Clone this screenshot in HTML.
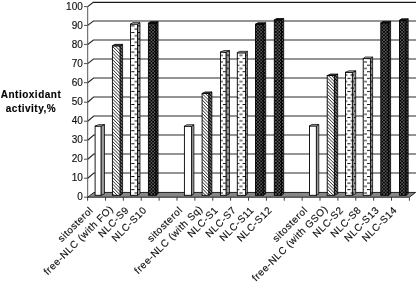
<!DOCTYPE html><html><head><meta charset="utf-8"><style>html,body{margin:0;padding:0;background:#fff;width:416px;height:282px;overflow:hidden}svg{display:block;filter:grayscale(1)}text{font-family:"Liberation Sans",sans-serif;stroke:#111;stroke-width:0.15px}</style></head><body>
<svg width="416" height="282" viewBox="0 0 416 282">
<defs>
<pattern id="ph" patternUnits="userSpaceOnUse" width="2.3158" height="4" patternTransform="rotate(-45)"><rect width="3" height="4" fill="#fff"/><rect width="0.75" height="4" fill="#333"/></pattern>
<pattern id="phs" patternUnits="userSpaceOnUse" width="2.3158" height="4" patternTransform="rotate(-45)"><rect width="3" height="4" fill="#888"/><rect width="1.1" height="4" fill="#000"/></pattern>
<pattern id="pd" patternUnits="userSpaceOnUse" x="0.2" y="5.75" width="6.55" height="6.55"><rect width="6.55" height="6.55" fill="#fff"/><rect x="0" y="0" width="3.275" height="1" fill="#111"/><rect x="3.275" y="3.275" width="3.275" height="1" fill="#111"/></pattern>
<pattern id="pds" patternUnits="userSpaceOnUse" x="0.2" y="5.75" width="6.55" height="6.55"><rect width="6.55" height="6.55" fill="#999"/><rect x="0" y="0" width="3.275" height="1" fill="#000"/><rect x="3.275" y="3.275" width="3.275" height="1" fill="#000"/></pattern>
<pattern id="pk" patternUnits="userSpaceOnUse" width="3.275" height="3.275"><rect width="3.275" height="3.275" fill="#000"/><circle cx="0.819" cy="0.819" r="0.55" fill="#fff"/><circle cx="2.456" cy="2.456" r="0.55" fill="#eee"/></pattern>
</defs>
<line x1="84" y1="197.20" x2="87.7" y2="197.20" stroke="#444" stroke-width="0.95"/>
<text x="82.8" y="200.30" font-size="10" text-anchor="end" fill="#111">0</text>
<polyline points="87.7,178.20 93.84,173.00 416,173.00" fill="none" stroke="#2a2a2a" stroke-width="1.2"/>
<line x1="84" y1="178.20" x2="87.7" y2="178.20" stroke="#444" stroke-width="0.95"/>
<text x="82.8" y="181.30" font-size="10" text-anchor="end" fill="#111">10</text>
<polyline points="87.7,159.20 93.78,154.00 416,154.00" fill="none" stroke="#2a2a2a" stroke-width="1.2"/>
<line x1="84" y1="159.20" x2="87.7" y2="159.20" stroke="#444" stroke-width="0.95"/>
<text x="82.8" y="162.30" font-size="10" text-anchor="end" fill="#111">20</text>
<polyline points="87.7,140.20 93.72,135.00 416,135.00" fill="none" stroke="#2a2a2a" stroke-width="1.2"/>
<line x1="84" y1="140.20" x2="87.7" y2="140.20" stroke="#444" stroke-width="0.95"/>
<text x="82.8" y="143.30" font-size="10" text-anchor="end" fill="#111">30</text>
<polyline points="87.7,121.20 93.66,116.00 416,116.00" fill="none" stroke="#2a2a2a" stroke-width="1.2"/>
<line x1="84" y1="121.20" x2="87.7" y2="121.20" stroke="#444" stroke-width="0.95"/>
<text x="82.8" y="124.30" font-size="10" text-anchor="end" fill="#111">40</text>
<polyline points="87.7,102.20 93.60,97.00 416,97.00" fill="none" stroke="#2a2a2a" stroke-width="1.2"/>
<line x1="84" y1="102.20" x2="87.7" y2="102.20" stroke="#444" stroke-width="0.95"/>
<text x="82.8" y="105.30" font-size="10" text-anchor="end" fill="#111">50</text>
<polyline points="87.7,82.70 93.54,78.00 416,78.00" fill="none" stroke="#2a2a2a" stroke-width="1.2"/>
<line x1="84" y1="82.70" x2="87.7" y2="82.70" stroke="#444" stroke-width="0.95"/>
<text x="82.8" y="85.80" font-size="10" text-anchor="end" fill="#111">60</text>
<polyline points="87.7,63.60 93.48,59.00 416,59.00" fill="none" stroke="#2a2a2a" stroke-width="1.2"/>
<line x1="84" y1="63.60" x2="87.7" y2="63.60" stroke="#444" stroke-width="0.95"/>
<text x="82.8" y="66.70" font-size="10" text-anchor="end" fill="#111">70</text>
<polyline points="87.7,44.40 93.42,40.00 416,40.00" fill="none" stroke="#2a2a2a" stroke-width="1.2"/>
<line x1="84" y1="44.40" x2="87.7" y2="44.40" stroke="#444" stroke-width="0.95"/>
<text x="82.8" y="47.50" font-size="10" text-anchor="end" fill="#111">80</text>
<polyline points="87.7,25.40 93.36,21.00 416,21.00" fill="none" stroke="#2a2a2a" stroke-width="1.2"/>
<line x1="84" y1="25.40" x2="87.7" y2="25.40" stroke="#444" stroke-width="0.95"/>
<text x="82.8" y="28.50" font-size="10" text-anchor="end" fill="#111">90</text>
<polyline points="87.7,6.60 93.30,2.35 416,2.35" fill="none" stroke="#1a1a1a" stroke-width="1.15"/>
<line x1="84" y1="6.60" x2="87.7" y2="6.60" stroke="#444" stroke-width="0.95"/>
<text x="82.8" y="9.70" font-size="10" text-anchor="end" fill="#111">100</text>
<line x1="87.7" y1="6.6" x2="87.7" y2="197.7" stroke="#555" stroke-width="1.0"/>
<polygon points="87.7,197.2 409.404,197.2 415.6,192.45 93.90,192.45" fill="#878787" stroke="#111" stroke-width="0.9"/>
<line x1="87.60" y1="197.2" x2="87.60" y2="200.7" stroke="#333" stroke-width="0.95"/>
<line x1="105.48" y1="197.2" x2="105.48" y2="200.7" stroke="#333" stroke-width="0.95"/>
<line x1="123.36" y1="197.2" x2="123.36" y2="200.7" stroke="#333" stroke-width="0.95"/>
<line x1="141.23" y1="197.2" x2="141.23" y2="200.7" stroke="#333" stroke-width="0.95"/>
<line x1="159.11" y1="197.2" x2="159.11" y2="200.7" stroke="#333" stroke-width="0.95"/>
<line x1="176.99" y1="197.2" x2="176.99" y2="200.7" stroke="#333" stroke-width="0.95"/>
<line x1="194.87" y1="197.2" x2="194.87" y2="200.7" stroke="#333" stroke-width="0.95"/>
<line x1="212.75" y1="197.2" x2="212.75" y2="200.7" stroke="#333" stroke-width="0.95"/>
<line x1="230.62" y1="197.2" x2="230.62" y2="200.7" stroke="#333" stroke-width="0.95"/>
<line x1="248.50" y1="197.2" x2="248.50" y2="200.7" stroke="#333" stroke-width="0.95"/>
<line x1="266.38" y1="197.2" x2="266.38" y2="200.7" stroke="#333" stroke-width="0.95"/>
<line x1="284.26" y1="197.2" x2="284.26" y2="200.7" stroke="#333" stroke-width="0.95"/>
<line x1="302.14" y1="197.2" x2="302.14" y2="200.7" stroke="#333" stroke-width="0.95"/>
<line x1="320.01" y1="197.2" x2="320.01" y2="200.7" stroke="#333" stroke-width="0.95"/>
<line x1="337.89" y1="197.2" x2="337.89" y2="200.7" stroke="#333" stroke-width="0.95"/>
<line x1="355.77" y1="197.2" x2="355.77" y2="200.7" stroke="#333" stroke-width="0.95"/>
<line x1="373.65" y1="197.2" x2="373.65" y2="200.7" stroke="#333" stroke-width="0.95"/>
<line x1="391.53" y1="197.2" x2="391.53" y2="200.7" stroke="#333" stroke-width="0.95"/>
<line x1="409.40" y1="197.2" x2="409.40" y2="200.7" stroke="#333" stroke-width="0.95"/>
<rect x="95.10" y="126.15" width="6.10" height="69.15" fill="#fff" stroke="#000" stroke-width="0.9"/>
<polygon points="101.20,126.15 104.50,124.65 104.50,193.80 101.20,195.30" fill="#999" stroke="#000" stroke-width="0.75" stroke-linejoin="round"/>
<polygon points="95.10,126.15 98.40,124.65 104.50,124.65 101.20,126.15" fill="#ccc" stroke="#000" stroke-width="0.75" stroke-linejoin="round"/>
<rect x="112.40" y="45.85" width="7.80" height="149.45" fill="url(#ph)" stroke="#000" stroke-width="0.9"/>
<polygon points="120.20,45.85 122.60,44.35 122.60,193.80 120.20,195.30" fill="url(#phs)" stroke="#000" stroke-width="0.75" stroke-linejoin="round"/>
<polygon points="112.40,45.85 114.80,44.35 122.60,44.35 120.20,45.85" fill="#444" stroke="#000" stroke-width="0.75" stroke-linejoin="round"/>
<rect x="130.50" y="24.15" width="7.00" height="171.15" fill="url(#pd)" stroke="#000" stroke-width="0.9"/>
<polygon points="137.50,24.15 140.00,22.65 140.00,193.80 137.50,195.30" fill="url(#pds)" stroke="#000" stroke-width="0.75" stroke-linejoin="round"/>
<polygon points="130.50,24.15 133.00,22.65 140.00,22.65 137.50,24.15" fill="#ccc" stroke="#000" stroke-width="0.75" stroke-linejoin="round"/>
<rect x="148.40" y="23.20" width="7.60" height="172.10" fill="url(#pk)" stroke="#000" stroke-width="0.9"/>
<polygon points="156.00,23.20 158.10,21.70 158.10,193.80 156.00,195.30" fill="url(#pk)" stroke="#000" stroke-width="0.75" stroke-linejoin="round"/>
<polygon points="148.40,23.20 150.50,21.70 158.10,21.70 156.00,23.20" fill="#111" stroke="#000" stroke-width="0.75" stroke-linejoin="round"/>
<rect x="184.40" y="126.25" width="7.20" height="69.05" fill="#fff" stroke="#000" stroke-width="0.9"/>
<polygon points="191.60,126.25 193.90,124.75 193.90,193.80 191.60,195.30" fill="#999" stroke="#000" stroke-width="0.75" stroke-linejoin="round"/>
<polygon points="184.40,126.25 186.70,124.75 193.90,124.75 191.60,126.25" fill="#ccc" stroke="#000" stroke-width="0.75" stroke-linejoin="round"/>
<rect x="202.10" y="93.45" width="6.80" height="101.85" fill="url(#ph)" stroke="#000" stroke-width="0.9"/>
<polygon points="208.90,93.45 211.90,91.95 211.90,193.80 208.90,195.30" fill="url(#phs)" stroke="#000" stroke-width="0.75" stroke-linejoin="round"/>
<polygon points="202.10,93.45 205.10,91.95 211.90,91.95 208.90,93.45" fill="#444" stroke="#000" stroke-width="0.75" stroke-linejoin="round"/>
<rect x="220.50" y="52.05" width="5.70" height="143.25" fill="url(#pd)" stroke="#000" stroke-width="0.9"/>
<polygon points="226.20,52.05 229.50,50.55 229.50,193.80 226.20,195.30" fill="url(#pds)" stroke="#000" stroke-width="0.75" stroke-linejoin="round"/>
<polygon points="220.50,52.05 223.80,50.55 229.50,50.55 226.20,52.05" fill="#ccc" stroke="#000" stroke-width="0.75" stroke-linejoin="round"/>
<rect x="237.30" y="52.85" width="8.20" height="142.45" fill="url(#pd)" stroke="#000" stroke-width="0.9"/>
<polygon points="245.50,52.85 247.40,51.35 247.40,193.80 245.50,195.30" fill="url(#pds)" stroke="#000" stroke-width="0.75" stroke-linejoin="round"/>
<polygon points="237.30,52.85 239.20,51.35 247.40,51.35 245.50,52.85" fill="#ccc" stroke="#000" stroke-width="0.75" stroke-linejoin="round"/>
<rect x="255.50" y="24.20" width="7.80" height="171.10" fill="url(#pk)" stroke="#000" stroke-width="0.9"/>
<polygon points="263.30,24.20 265.70,22.70 265.70,193.80 263.30,195.30" fill="url(#pk)" stroke="#000" stroke-width="0.75" stroke-linejoin="round"/>
<polygon points="255.50,24.20 257.90,22.70 265.70,22.70 263.30,24.20" fill="#111" stroke="#000" stroke-width="0.75" stroke-linejoin="round"/>
<rect x="274.30" y="20.00" width="7.20" height="175.30" fill="url(#pk)" stroke="#000" stroke-width="0.9"/>
<polygon points="281.50,20.00 283.70,18.50 283.70,193.80 281.50,195.30" fill="url(#pk)" stroke="#000" stroke-width="0.75" stroke-linejoin="round"/>
<polygon points="274.30,20.00 276.50,18.50 283.70,18.50 281.50,20.00" fill="#111" stroke="#000" stroke-width="0.75" stroke-linejoin="round"/>
<rect x="309.50" y="125.95" width="6.90" height="69.35" fill="#fff" stroke="#000" stroke-width="0.9"/>
<polygon points="316.40,125.95 318.80,124.45 318.80,193.80 316.40,195.30" fill="#999" stroke="#000" stroke-width="0.75" stroke-linejoin="round"/>
<polygon points="309.50,125.95 311.90,124.45 318.80,124.45 316.40,125.95" fill="#ccc" stroke="#000" stroke-width="0.75" stroke-linejoin="round"/>
<rect x="327.20" y="75.55" width="7.20" height="119.75" fill="url(#ph)" stroke="#000" stroke-width="0.9"/>
<polygon points="334.40,75.55 337.70,74.05 337.70,193.80 334.40,195.30" fill="url(#phs)" stroke="#000" stroke-width="0.75" stroke-linejoin="round"/>
<polygon points="327.20,75.55 330.50,74.05 337.70,74.05 334.40,75.55" fill="#444" stroke="#000" stroke-width="0.75" stroke-linejoin="round"/>
<rect x="345.50" y="72.35" width="6.90" height="122.95" fill="url(#pd)" stroke="#000" stroke-width="0.9"/>
<polygon points="352.40,72.35 355.70,70.85 355.70,193.80 352.40,195.30" fill="url(#pds)" stroke="#000" stroke-width="0.75" stroke-linejoin="round"/>
<polygon points="345.50,72.35 348.80,70.85 355.70,70.85 352.40,72.35" fill="#ccc" stroke="#000" stroke-width="0.75" stroke-linejoin="round"/>
<rect x="363.20" y="58.55" width="7.40" height="136.75" fill="url(#pd)" stroke="#000" stroke-width="0.9"/>
<polygon points="370.60,58.55 372.60,57.05 372.60,193.80 370.60,195.30" fill="url(#pds)" stroke="#000" stroke-width="0.75" stroke-linejoin="round"/>
<polygon points="363.20,58.55 365.20,57.05 372.60,57.05 370.60,58.55" fill="#ccc" stroke="#000" stroke-width="0.75" stroke-linejoin="round"/>
<rect x="380.80" y="22.90" width="7.60" height="172.40" fill="url(#pk)" stroke="#000" stroke-width="0.9"/>
<polygon points="388.40,22.90 390.60,21.40 390.60,193.80 388.40,195.30" fill="url(#pk)" stroke="#000" stroke-width="0.75" stroke-linejoin="round"/>
<polygon points="380.80,22.90 383.00,21.40 390.60,21.40 388.40,22.90" fill="#111" stroke="#000" stroke-width="0.75" stroke-linejoin="round"/>
<rect x="399.50" y="20.30" width="6.60" height="175.00" fill="url(#pk)" stroke="#000" stroke-width="0.9"/>
<polygon points="406.10,20.30 408.20,18.80 408.20,193.80 406.10,195.30" fill="url(#pk)" stroke="#000" stroke-width="0.75" stroke-linejoin="round"/>
<polygon points="399.50,20.30 401.60,18.80 408.20,18.80 406.10,20.30" fill="#111" stroke="#000" stroke-width="0.75" stroke-linejoin="round"/>
<text x="93.70" y="210.7" font-size="10" letter-spacing="0.5" text-anchor="end" transform="rotate(-45 93.70 210.7)" fill="#111">sitosterol</text>
<text x="113.88" y="209.5" font-size="10" letter-spacing="0.5" text-anchor="end" transform="rotate(-45 113.88 209.5)" fill="#111">free-NLC (with FO)</text>
<text x="129.46" y="210.7" font-size="10" letter-spacing="0.5" text-anchor="end" transform="rotate(-45 129.46 210.7)" fill="#111">NLC-S9</text>
<text x="147.33" y="210.7" font-size="10" letter-spacing="0.5" text-anchor="end" transform="rotate(-45 147.33 210.7)" fill="#111">NLC-S10</text>
<text x="183.09" y="210.7" font-size="10" letter-spacing="0.5" text-anchor="end" transform="rotate(-45 183.09 210.7)" fill="#111">sitosterol</text>
<text x="203.27" y="209.5" font-size="10" letter-spacing="0.5" text-anchor="end" transform="rotate(-45 203.27 209.5)" fill="#111">free-NLC (with Sq)</text>
<text x="218.85" y="210.7" font-size="10" letter-spacing="0.5" text-anchor="end" transform="rotate(-45 218.85 210.7)" fill="#111">NLC-S1</text>
<text x="236.72" y="210.7" font-size="10" letter-spacing="0.5" text-anchor="end" transform="rotate(-45 236.72 210.7)" fill="#111">NLC-S7</text>
<text x="254.60" y="210.7" font-size="10" letter-spacing="0.5" text-anchor="end" transform="rotate(-45 254.60 210.7)" fill="#111">NLC-S11</text>
<text x="272.48" y="210.7" font-size="10" letter-spacing="0.5" text-anchor="end" transform="rotate(-45 272.48 210.7)" fill="#111">NLC-S12</text>
<text x="308.24" y="210.7" font-size="10" letter-spacing="0.5" text-anchor="end" transform="rotate(-45 308.24 210.7)" fill="#111">sitosterol</text>
<text x="328.41" y="209.5" font-size="10" letter-spacing="0.5" text-anchor="end" transform="rotate(-45 328.41 209.5)" fill="#111">free-NLC (with GSO)</text>
<text x="343.99" y="210.7" font-size="10" letter-spacing="0.5" text-anchor="end" transform="rotate(-45 343.99 210.7)" fill="#111">NLC-S2</text>
<text x="361.87" y="210.7" font-size="10" letter-spacing="0.5" text-anchor="end" transform="rotate(-45 361.87 210.7)" fill="#111">NLC-S8</text>
<text x="379.75" y="210.7" font-size="10" letter-spacing="0.5" text-anchor="end" transform="rotate(-45 379.75 210.7)" fill="#111">NLC-S13</text>
<text x="397.63" y="210.7" font-size="10" letter-spacing="0.5" text-anchor="end" transform="rotate(-45 397.63 210.7)" fill="#111">NLC-S14</text>
<text x="31" y="98.2" font-size="10" font-weight="bold" letter-spacing="0.5" text-anchor="middle" fill="#000" stroke="none">Antioxidant</text>
<text x="31" y="112" font-size="10" font-weight="bold" letter-spacing="0.5" text-anchor="middle" fill="#000" stroke="none">activity,%</text>
</svg></body></html>
